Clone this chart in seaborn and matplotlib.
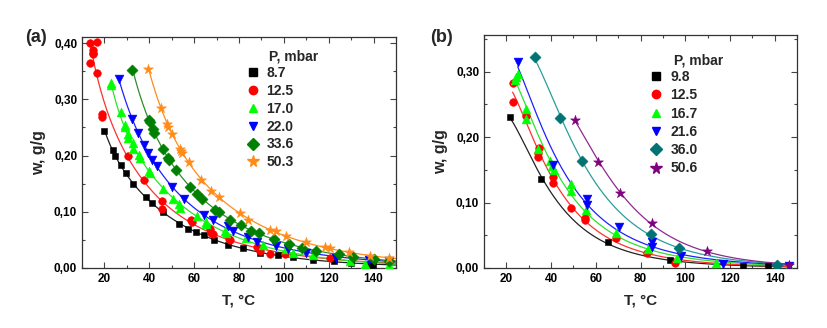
import numpy as np
import pandas as pd
import matplotlib
matplotlib.use("Agg")
import matplotlib.pyplot as plt
from matplotlib.lines import Line2D
from matplotlib.ticker import MultipleLocator, FuncFormatter
import seaborn as sns

sns.set_style("ticks")
plt.rcParams['font.family'] = ['Liberation Sans', 'DejaVu Sans']
plt.rcParams['font.weight'] = 'bold'

# ---------------- Panel (a) data ----------------
a_labels = ["8.7", "12.5", "17.0", "22.0", "33.6", "50.3"]
a_T_87 = [20, 23.6, 24.9, 27.3, 29.4, 32.8, 38.4, 41.2, 45.9, 53.2, 57.4, 60.8, 64.3, 68.9,
          75.3, 81.7, 89.3, 97.4, 104.1, 113, 122.5, 130, 137, 139.7]
a_w_87 = [0.244, 0.210, 0.200, 0.183, 0.169, 0.150, 0.126, 0.116, 0.099, 0.079, 0.070, 0.064,
          0.058, 0.050, 0.041, 0.035, 0.027, 0.023, 0.020, 0.015, 0.012, 0.009, 0.006, 0.006]
a_T_125 = [13.6, 14.7, 15.0, 14.8, 13.6, 16.9, 16.9, 18.7, 18.7, 30.7, 37.8, 45.8, 45.8, 58.6,
           58.9, 67.0, 67.3, 68.5, 75.6, 75.9, 88.0, 89.3, 93.7, 100.4, 120.4]
a_w_125 = [0.400, 0.388, 0.383, 0.380, 0.364, 0.402, 0.347, 0.274, 0.268, 0.199, 0.156, 0.120,
           0.105, 0.086, 0.081, 0.069, 0.063, 0.060, 0.052, 0.050, 0.037, 0.031, 0.025, 0.025, 0.018]
a_T_170 = [22.8, 22.8, 27.3, 29.0, 29.0, 30.5, 30.5, 32.9, 32.9, 35.6, 35.9, 40.0, 40.3, 46.0,
           50.4, 53.4, 53.7, 61.4, 65.2, 65.5, 73.7, 74.2, 83.3, 90.7, 100.8, 104, 113, 129.3,
           136, 147]
a_w_170 = [0.329, 0.325, 0.277, 0.255, 0.250, 0.239, 0.232, 0.222, 0.212, 0.201, 0.196, 0.172,
           0.169, 0.140, 0.123, 0.113, 0.107, 0.092, 0.081, 0.078, 0.065, 0.062, 0.053, 0.041,
           0.033, 0.027, 0.0225, 0.012, 0.008, 0.006]
a_T_220 = [26.4, 32.4, 35.0, 37.6, 39.6, 41.2, 43.6, 50.0, 55.3, 64.4, 68.2, 74.9, 77.4, 84.0,
           88.0, 96.4, 101.9, 109.7, 123.4, 138, 147]
a_w_220 = [0.337, 0.265, 0.241, 0.219, 0.204, 0.193, 0.181, 0.144, 0.122, 0.095, 0.085, 0.074,
           0.065, 0.0545, 0.047, 0.040, 0.033, 0.027, 0.018, 0.015, 0.013]
a_T_336 = [32.5, 40.0, 40.5, 41.5, 42.1, 46.1, 48.5, 48.8, 51.9, 58.0, 61.4, 63.5, 69.2, 71.2,
           75.9, 81.1, 85.3, 88.8, 95.5, 102.2, 108.2, 114.5, 124.8, 131, 140.4, 147]
a_w_336 = [0.353, 0.264, 0.259, 0.247, 0.241, 0.212, 0.196, 0.193, 0.174, 0.145, 0.131, 0.123,
           0.104, 0.099, 0.086, 0.077, 0.066, 0.062, 0.052, 0.043, 0.036, 0.031, 0.025, 0.020,
           0.016, 0.012]
a_T_503 = [39.6, 45.3, 48.1, 48.5, 50.3, 53.9, 54.3, 54.8, 57.7, 63.1, 67.5, 71.0, 80.4, 84.1,
           93.7, 96.4, 101.1, 109.7, 118.2, 120.4, 129, 138.2, 147]
a_w_503 = [0.354, 0.285, 0.257, 0.251, 0.239, 0.212, 0.208, 0.205, 0.188, 0.157, 0.137, 0.126,
           0.097, 0.086, 0.068, 0.065, 0.057, 0.047, 0.037, 0.035, 0.028, 0.022, 0.017]

# ---------------- Panel (b) data ----------------
b_labels = ["9.8", "12.5", "16.7", "21.6", "36.0", "50.6"]
b_T_98 = [21.8, 35.6, 65.4, 93.4, 125.7, 137.2]
b_w_98 = [0.230, 0.136, 0.040, 0.0116, 0.0025, 0.0025]
b_T_125 = [22.8, 22.8, 28.8, 34.0, 34.0, 34.8, 40.8, 40.8, 49.0, 55.0, 55.0, 69.2, 83.1, 95.3]
b_w_125 = [0.283, 0.253, 0.233, 0.175, 0.170, 0.183, 0.139, 0.130, 0.0915, 0.076, 0.073,
           0.046, 0.023, 0.0076]
b_T_167 = [24.3, 25.0, 23.8, 28.8, 28.8, 34.0, 39.7, 40.5, 41.1, 49.0, 49.0, 55.4, 69.2, 83.4,
           96.5, 113.7, 146.5]
b_w_167 = [0.292, 0.296, 0.287, 0.243, 0.228, 0.182, 0.164, 0.156, 0.150, 0.128, 0.117, 0.088,
           0.053, 0.029, 0.015, 0.0076, 0.003]
b_T_216 = [25.1, 40.8, 56.0, 56.0, 70.2, 85.3, 85.3, 98.3, 116.7, 146.5]
b_w_216 = [0.314, 0.158, 0.105, 0.096, 0.0625, 0.040, 0.032, 0.019, 0.0066, 0.0025]
b_T_360 = [32.6, 43.8, 53.9, 84.9, 97.3, 140.9]
b_w_360 = [0.323, 0.229, 0.164, 0.052, 0.031, 0.005]
b_T_506 = [50.9, 60.9, 71.0, 85.3, 109.6, 146.6]
b_w_506 = [0.226, 0.162, 0.114, 0.068, 0.026, 0.005]

a_series = [(a_T_87, a_w_87), (a_T_125, a_w_125), (a_T_170, a_w_170),
            (a_T_220, a_w_220), (a_T_336, a_w_336), (a_T_503, a_w_503)]
b_series = [(b_T_98, b_w_98), (b_T_125, b_w_125), (b_T_167, b_w_167),
            (b_T_216, b_w_216), (b_T_360, b_w_360), (b_T_506, b_w_506)]

a_colors = ["#000000", "#ff0000", "#00ff00", "#0000ff", "#008000", "#ff8c1a"]
a_line_colors = ["#222222", "#ff3030", "#30e030", "#2020ff", "#2e8b2e", "#ff8c1a"]
b_colors = ["#000000", "#ff0000", "#00ff00", "#0000ff", "#007373", "#800080"]
b_line_colors = ["#222222", "#ff3030", "#30e030", "#2020ff", "#2a9d9d", "#8e2a8e"]
markers = ["s", "o", "^", "v", "D", "*"]
msizes = [22, 30, 40, 40, 32, 55]


def fit_curve(T, w, t_end, deg):
    T = np.asarray(T, float)
    w = np.asarray(w, float)
    x = np.log(T)
    y = np.log(w)
    coef = np.polyfit(x, y, deg, w=np.sqrt(w))
    tg = np.linspace(T.min(), t_end, 200)
    return tg, np.exp(np.polyval(coef, np.log(tg)))


fig = plt.figure(figsize=(8.28, 3.28), dpi=100)
axA = fig.add_axes([82 / 828, 1 - 268 / 328, 314 / 828, 231 / 328])
axB = fig.add_axes([484 / 828, 1 - 268 / 328, 313 / 828, 233 / 328])


def draw(ax, series, labels, colors, lcolors, t_end, deg):
    handles = []
    for i, ((T, w), lab) in enumerate(zip(series, labels)):
        tg, wg = fit_curve(T, w, t_end, deg)
        fdf = pd.DataFrame({"T": tg, "w": wg})
        sns.lineplot(data=fdf, x="T", y="w", ax=ax, color=lcolors[i], lw=0.9,
                     sort=False, estimator=None, legend=False)
        df = pd.DataFrame({"T": T, "w": w})
        sns.scatterplot(data=df, x="T", y="w", ax=ax, color=colors[i], marker=markers[i],
                        s=msizes[i], edgecolor=colors[i], linewidth=0.4, legend=False,
                        zorder=3)
        handles.append(Line2D([], [], ls="none", marker=markers[i], color=colors[i],
                              markersize=6 if markers[i] != "*" else 8.5,
                              markeredgecolor=colors[i]))
    return handles


hA = draw(axA, a_series, a_labels, a_colors, a_line_colors, 150, 3)
hB = draw(axB, b_series, b_labels, b_colors, b_line_colors, 146.5, 2)

fmt = FuncFormatter(lambda v, p: f"{v:.2f}".replace(".", ","))
for ax, ymax in ((axA, 0.411), (axB, 0.356)):
    ax.set_xlim(10, 150)
    ax.set_ylim(0, ymax)
    ax.xaxis.set_major_locator(MultipleLocator(20))
    ax.xaxis.set_minor_locator(MultipleLocator(10))
    ax.yaxis.set_major_locator(MultipleLocator(0.1))
    ax.yaxis.set_minor_locator(MultipleLocator(0.05))
    ax.yaxis.set_major_formatter(fmt)
    ax.tick_params(which="both", direction="in", top=True, right=True, colors="#444444",
                   labelcolor="black", labelsize=8.5, width=0.8)
    ax.tick_params(which="major", length=4)
    ax.tick_params(which="minor", length=2)
    for lab in ax.get_xticklabels() + ax.get_yticklabels():
        lab.set_fontweight("bold")
    for s in ax.spines.values():
        s.set_linewidth(0.9)
        s.set_color("#333333")
    ax.set_xlabel("T, °C", fontsize=11, fontweight="bold", labelpad=6)
    ax.set_ylabel("w, g/g", fontsize=11.5, fontweight="bold", labelpad=6)

axA.legend(hA, a_labels, loc="upper left", bbox_to_anchor=(0.495, 0.905), frameon=False,
           handletextpad=0.4, labelspacing=0.28, borderpad=0,
           handlelength=1.2, prop={"weight": "bold", "size": 10})
axA.text(0.597, 0.885, "P, mbar", transform=axA.transAxes, fontsize=10,
         fontweight="bold", ha="left", va="bottom")
axB.legend(hB, b_labels, loc="upper left", bbox_to_anchor=(0.502, 0.88), frameon=False,
           handletextpad=0.4, labelspacing=0.31, borderpad=0,
           handlelength=1.2, prop={"weight": "bold", "size": 10})
axB.text(0.607, 0.862, "P, mbar", transform=axB.transAxes, fontsize=10,
         fontweight="bold", ha="left", va="bottom")

fig.text(25 / 828, 1 - 37 / 328, "(a)", fontsize=13, fontweight="bold", ha="left",
         va="center")
fig.text(430 / 828, 1 - 37 / 328, "(b)", fontsize=13, fontweight="bold", ha="left",
         va="center")

fig.savefig("out.png", dpi=100, facecolor="white")
